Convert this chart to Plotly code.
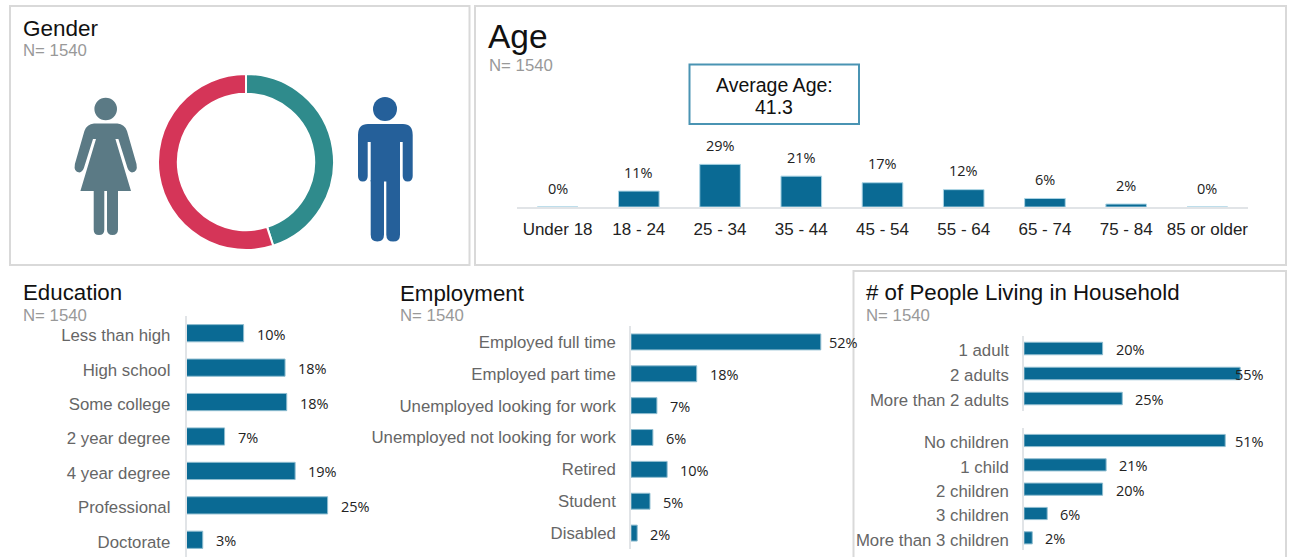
import plotly.graph_objects as go

W, H = 1290, 557
SANS = "Liberation Sans"
LABEL = "Open Sans"
BAR = "#0A6A94"
EDGE = "#8FBDD0"
AXIS = "#E1E4E7"

gender_labels = ["Male", "Female"]
gender_values = [45, 55]
gender_colors = ["#2F8B8C", "#D53558"]

age_cats = ["Under 18", "18 - 24", "25 - 34", "35 - 44", "45 - 54", "55 - 64", "65 - 74", "75 - 84", "85 or older"]
age_vals = [0, 10.8, 29, 21, 16.5, 11.8, 5.8, 2, 0]
age_labels = ["0%", "11%", "29%", "21%", "17%", "12%", "6%", "2%", "0%"]

edu_cats = ["Less than high", "High school", "Some college", "2 year degree", "4 year degree", "Professional", "Doctorate"]
edu_vals = [10.2, 17.6, 17.9, 6.8, 19.4, 25.2, 2.9]
edu_labels = ["10%", "18%", "18%", "7%", "19%", "25%", "3%"]

emp_cats = ["Employed full time", "Employed part time", "Unemployed looking for work",
            "Unemployed not looking for work", "Retired", "Student", "Disabled"]
emp_vals = [52, 18, 7.1, 6, 9.9, 5.2, 1.7]
emp_labels = ["52%", "18%", "7%", "6%", "10%", "5%", "2%"]

adult_cats = ["1 adult", "2 adults", "More than 2 adults"]
adult_vals = [20, 55, 25]
adult_labels = ["20%", "55%", "25%"]

child_cats = ["No children", "1 child", "2 children", "3 children", "More than 3 children"]
child_vals = [51.2, 20.9, 20, 5.9, 2.1]
child_labels = ["51%", "21%", "20%", "6%", "2%"]


def fx(x):
    return x / W


def fy(y):
    return 1 - y / H


def pt(x, y):
    return f"{fx(x):.5f},{fy(y):.5f}"


def poly(points):
    return "M" + " L".join(pt(x, y) for x, y in points) + " Z"


def rounded_leg(x0, x1, y0, y1):
    r = (x1 - x0) / 2
    return (f"M{pt(x0, y0)} L{pt(x1, y0)} L{pt(x1, y1 - r)} "
            f"Q{pt(x1, y1)} {pt(x1 - r, y1)} Q{pt(x0, y1)} {pt(x0, y1 - r)} Z")


fig = go.Figure()
shapes = []
annotations = []
layout_axes = {}


def text(x, y, s, size, color="#111111", family=SANS, anchor="left"):
    annotations.append(dict(xref="paper", yref="paper", x=fx(x), y=fy(y), text=s, showarrow=False,
                            xanchor=anchor, yanchor="middle", align=anchor,
                            xshift=-2 if anchor == "left" else 0,
                            font=dict(family=family, size=size, color=color)))


def panel(x0, y0, x1, y1, color="#D9D9D9", width=2):
    shapes.append(dict(type="rect", xref="paper", yref="paper", x0=fx(x0), x1=fx(x1), y0=fy(y0), y1=fy(y1),
                       line=dict(color=color, width=width), fillcolor="rgba(0,0,0,0)"))


def icon(path, color):
    shapes.append(dict(type="path", xref="paper", yref="paper", path=path, fillcolor=color,
                       line=dict(color=color, width=0)))


def head(cx, cy, r, color):
    shapes.append(dict(type="circle", xref="paper", yref="paper", x0=fx(cx - r), x1=fx(cx + r),
                       y0=fy(cy + r), y1=fy(cy - r), fillcolor=color, line=dict(color=color, width=0)))


def hbar(idx, cats, vals, labels, left, top, bottom, px_per, shift=11, label_cap=None, standoff=11, tick_shift=-2):
    xa, ya = f"x{idx}", f"y{idx}"
    right = left + 100 * px_per
    fig.add_trace(go.Bar(y=cats, x=vals, orientation="h", xaxis=xa, yaxis=ya, width=0.5,
                         marker=dict(color=BAR, line=dict(color=EDGE, width=1)), hoverinfo="skip", showlegend=False))
    layout_axes[f"xaxis{idx}"] = dict(domain=[fx(left), min(fx(right), 1)], range=[0, (min(right, W) - left) / px_per],
                                      visible=False, anchor=ya, fixedrange=True)
    layout_axes[f"yaxis{idx}"] = dict(domain=[fy(bottom), fy(top)], autorange="reversed", anchor=xa,
                                      categoryorder="array", categoryarray=cats,
                                      showline=True, linecolor=AXIS, linewidth=1.5, showgrid=False, zeroline=False,
                                      ticks="", ticklabelstandoff=standoff, ticklabelshift=tick_shift, fixedrange=True,
                                      tickfont=dict(family=SANS, size=16.8, color="#666666"))
    for c, v, l in zip(cats, vals, labels):
        pos = v if label_cap is None else min(v, label_cap)
        annotations.append(dict(xref=xa, yref=ya, x=pos, y=c, text=l, showarrow=False, xanchor="left",
                                xshift=shift, yshift=-1, font=dict(family=LABEL, size=14.5, color="#222222")))


# Panels
panel(10, 6, 469.5, 265)
panel(475, 6, 1286, 265)
panel(853.5, 271, 1286, 560)

# Gender
text(23, 28, "Gender", 22.5)
text(23, 50, "N= 1540", 16.8, "#999999")
fig.add_trace(go.Pie(labels=gender_labels, values=gender_values, hole=0.775, sort=False, direction="clockwise",
                     rotation=0, textinfo="none", hoverinfo="skip", showlegend=False,
                     marker=dict(colors=gender_colors, line=dict(color="#FFFFFF", width=2)),
                     domain=dict(x=[fx(158), fx(334)], y=[fy(250), fy(74)])))

# Woman icon
WOMAN = "#5B7A85"
MID = 105.7
head(MID, 109, 11.3, WOMAN)
icon("M" + pt(94, 123.5) + " L" + pt(117.4, 123.5) + " Q" + pt(124.5, 124) + " " + pt(127, 131)
     + " L" + pt(136.5, 164) + " Q" + pt(138, 172) + " " + pt(132, 172.5) + " Q" + pt(129, 172) + " " + pt(127.5, 168)
     + " L" + pt(118.4, 139) + " L" + pt(115.4, 139) + " L" + pt(131, 191) + " L" + pt(80.4, 191)
     + " L" + pt(96, 139) + " L" + pt(93, 139)
     + " L" + pt(83.9, 168) + " Q" + pt(82.4, 172) + " " + pt(79.4, 172.5) + " Q" + pt(73.4, 172) + " " + pt(74.9, 164)
     + " L" + pt(84.4, 131) + " Q" + pt(86.9, 124) + " " + pt(94, 123.5) + " Z", WOMAN)
icon(rounded_leg(93.7, 104.3, 190, 235), WOMAN)
icon(rounded_leg(107, 118, 190, 235), WOMAN)

# Man icon
MAN = "#25609A"
head(385, 109, 12, MAN)
icon("M" + pt(368, 124) + " L" + pt(403, 124) + " Q" + pt(412.7, 124) + " " + pt(412.7, 135)
     + " L" + pt(412.7, 176) + " Q" + pt(412.7, 181.5) + " " + pt(407.7, 181.5) + " Q" + pt(402.7, 181.5) + " " + pt(402.7, 176)
     + " L" + pt(402.7, 142) + " L" + pt(400, 142) + " L" + pt(400, 181.5) + " L" + pt(370.7, 181.5) + " L" + pt(370.7, 142)
     + " L" + pt(367.7, 142) + " L" + pt(367.7, 176) + " Q" + pt(367.7, 181.5) + " " + pt(362.8, 181.5) + " Q" + pt(358, 181.5) + " " + pt(358, 176)
     + " L" + pt(358, 135) + " Q" + pt(358, 124) + " " + pt(368, 124) + " Z", MAN)
icon(rounded_leg(370.7, 384, 180, 241.5), MAN)
icon(rounded_leg(386.3, 400, 180, 241.5), MAN)

# Age
text(488, 37, "Age", 33.5)
text(489, 65, "N= 1540", 16.8, "#999999")
panel(689.5, 64.5, 859, 124, "#4A94B3", 2)
text(774, 85, "Average Age:", 19.5, anchor="center")
text(774, 107, "41.3", 19.5, anchor="center")
fig.add_trace(go.Bar(x=age_cats, y=age_vals, xaxis="x1", yaxis="y1", width=0.5,
                     marker=dict(color=BAR, line=dict(color="#A9D3E4", width=1)), hoverinfo="skip", showlegend=False))
layout_axes["xaxis1"] = dict(domain=[fx(517), fx(1248)], anchor="y1", showline=True, linecolor=AXIS, linewidth=1.5,
                             ticks="", ticklabelstandoff=6, showgrid=False, zeroline=False, fixedrange=True,
                             categoryorder="array", categoryarray=age_cats,
                             tickfont=dict(family=SANS, size=17, color="#222222"))
layout_axes["yaxis1"] = dict(domain=[fy(207), fy(130)], range=[0, 77 / 1.47], visible=False, anchor="x1", fixedrange=True)
for c, v, l in zip(age_cats, age_vals, age_labels):
    annotations.append(dict(xref="x1", yref="y1", x=c, y=v, text=l, showarrow=False, yanchor="middle",
                            yshift=19, font=dict(family=LABEL, size=14.5, color="#222222")))

# Education
text(23, 292, "Education", 22.3)
text(23, 315, "N= 1540", 16.8, "#999999")
hbar(2, edu_cats, edu_vals, edu_labels, 186.5, 316, 557, 5.6)

# Employment
text(400, 293, "Employment", 22.3)
text(400, 315, "N= 1540", 16.8, "#999999")
hbar(3, emp_cats, emp_vals, emp_labels, 631, 326, 549, 3.65, label_cap=50.7, standoff=10, tick_shift=0)

# Household
text(866, 292, "# of People Living in Household", 22.3)
text(866, 315, "N= 1540", 16.8, "#999999")
hbar(4, adult_cats, adult_vals, adult_labels, 1024, 336, 411, 3.93, label_cap=50.5, standoff=10)
hbar(5, child_cats, child_vals, child_labels, 1024, 428, 550, 3.93, label_cap=50.5, standoff=10)

fig.update_layout(width=W, height=H, autosize=False, margin=dict(l=0, r=0, t=0, b=0, pad=0),
                  paper_bgcolor="#FFFFFF", plot_bgcolor="rgba(0,0,0,0)", bargap=0.5,
                  shapes=shapes, annotations=annotations, showlegend=False, **layout_axes)
fig.write_html("out.html", config={"displayModeBar": False},
               post_script="document.body.style.margin='0';document.body.style.overflow='hidden';")
